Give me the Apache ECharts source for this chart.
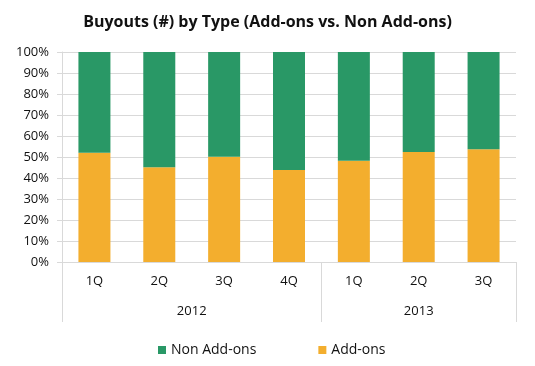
<!DOCTYPE html>
<html><head><meta charset="utf-8">
<script src="https://cdn.jsdelivr.net/npm/echarts@6/dist/echarts.min.js"></script>
<style>html,body{margin:0;padding:0;background:#fff}#c{width:535px;height:366px}</style>
</head><body><div id="c"></div>
<script>
const quarters = ['1Q','2Q','3Q','4Q','1Q','2Q','3Q'];
const years = ['2012','2013'];
const yearSpans = [4,3];
const addOns = [52.0, 45.1, 50.1, 43.8, 48.2, 52.4, 53.7];
const nonAddOns = [48.0, 54.9, 49.9, 56.2, 51.8, 47.6, 46.3];
const yTicks = [0,10,20,30,40,50,60,70,80,90,100];

const FONT = '"Open Sans", "Noto Sans", sans-serif';
// year boundaries and centers derived from spans
const bounds = [0]; const centers = [];
yearSpans.forEach(s => { const b = bounds[bounds.length-1]; centers.push(b + s/2); bounds.push(b + s); });

const chart = echarts.init(document.getElementById('c'));
chart.setOption({
  animation: false,
  title: { text: 'Buyouts (#) by Type (Add-ons vs. Non Add-ons)', left: 'center', top: 9,
    textStyle: { fontFamily: FONT, fontWeight: 'bold', fontSize: 16, color: '#111' } },
  legend: { top: 338, left: 153, itemGap: 62, itemWidth: 8, itemHeight: 8, icon: 'rect',
    data: ['Non Add-ons','Add-ons'],
    textStyle: { fontFamily: FONT, fontSize: 14, color: '#111' } },
  grid: { left: 62, right: 19, top: 52, bottom: 104 },
  xAxis: [
    { type: 'category', data: quarters, position: 'bottom',
      axisLine: { lineStyle: { color: '#d9d9d9' } },
      axisTick: { length: 31, lineStyle: { color: '#d9d9d9' } },
      axisLabel: { margin: 13, fontFamily: FONT, fontSize: 13, color: '#111' } },
    { type: 'value', min: 0, max: quarters.length, position: 'bottom',
      splitLine: { show: false },
      axisLine: { show: false },
      axisTick: { show: true, length: 60, customValues: bounds, lineStyle: { color: '#d9d9d9' } },
      axisLabel: { margin: 43, customValues: centers, fontFamily: FONT, fontSize: 13, color: '#111',
        formatter: v => { const i = centers.indexOf(v); return i >= 0 ? years[i] : ''; } } }
  ],
  yAxis: { type: 'value', min: 0, max: 100, interval: 10,
    axisLine: { show: true, lineStyle: { color: '#d9d9d9' } },
    axisTick: { show: true, length: 5, lineStyle: { color: '#d9d9d9' } },
    splitLine: { lineStyle: { color: '#d9d9d9' } },
    axisLabel: { margin: 13, fontFamily: FONT, fontSize: 13, color: '#111',
      formatter: v => yTicks.includes(v) ? v + '%' : '' } },
  series: [
    { name: 'Add-ons', type: 'bar', stack: 'a', data: addOns, barWidth: 32, xAxisIndex: 0,
      itemStyle: { color: '#F3AE2E' } },
    { name: 'Non Add-ons', type: 'bar', stack: 'a', data: nonAddOns, barWidth: 32, xAxisIndex: 0,
      itemStyle: { color: '#299866' } }
  ]
});
</script></body></html>
